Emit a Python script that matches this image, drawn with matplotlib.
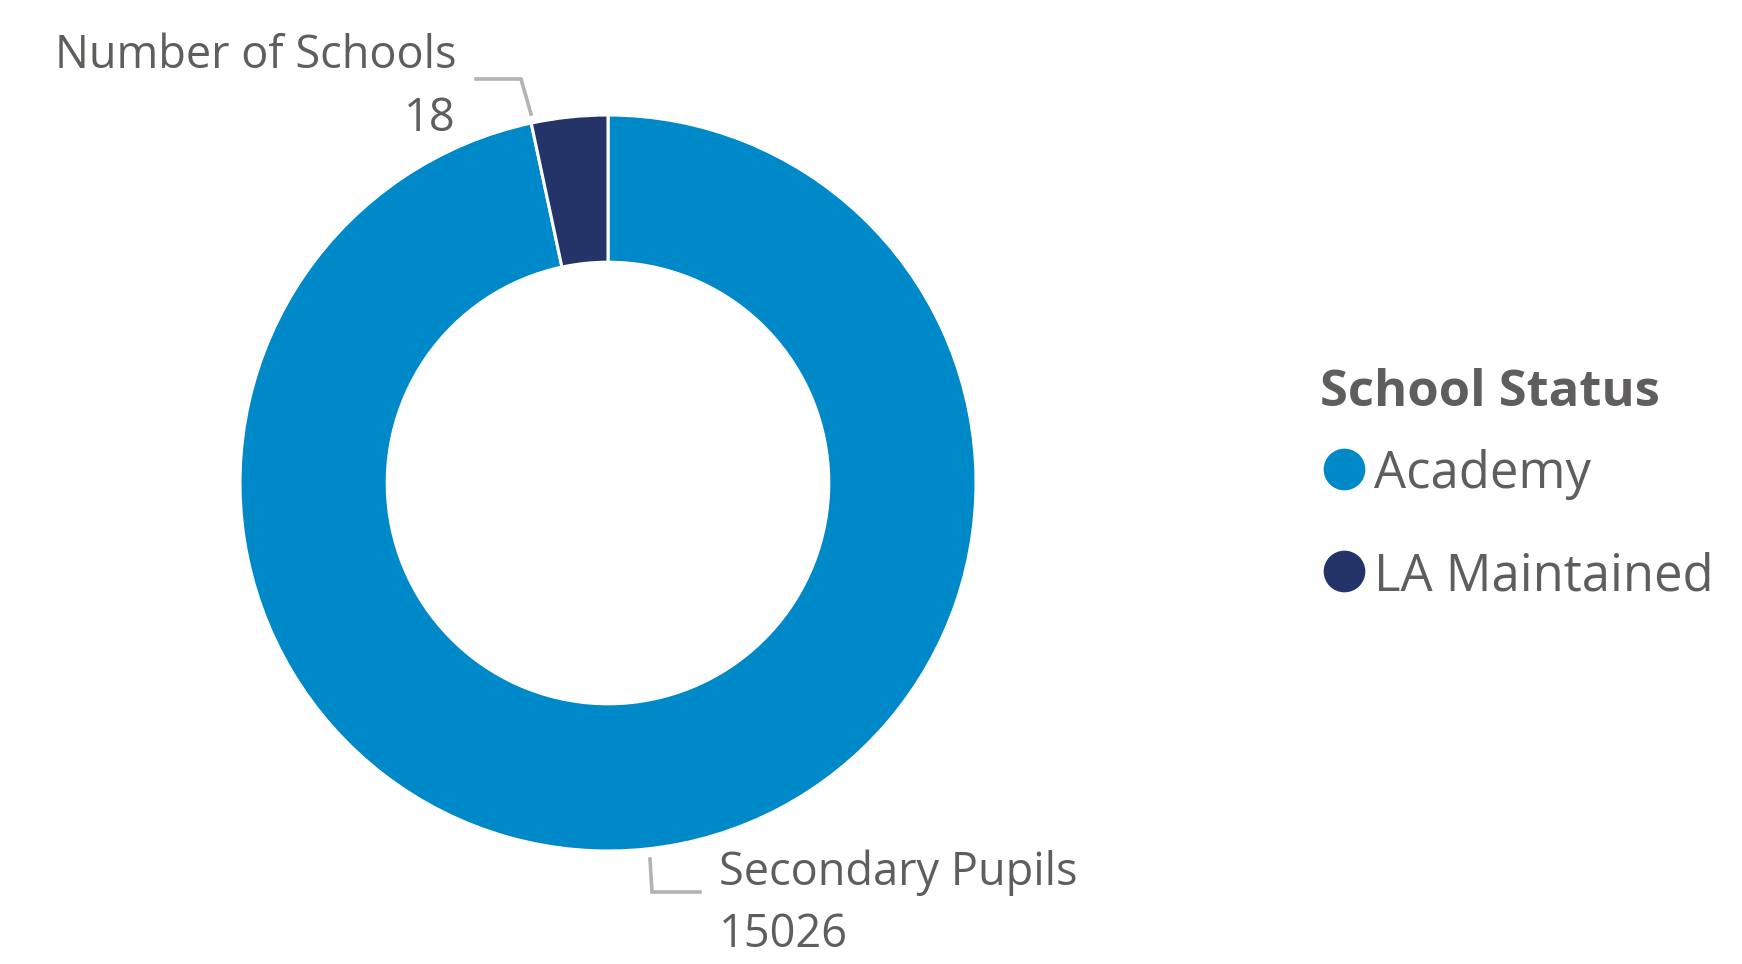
import matplotlib
matplotlib.use("Agg")
import matplotlib.pyplot as plt
import numpy as np

# ---- data ----
statuses = ["Academy", "LA Maintained"]
values = [15026, 520]          # slice sizes (LA Maintained)
colors = ["#0089C8", "#243468"]
label_titles = ["Secondary Pupils", "Number of Schools"]
label_values = ["15026", "18"]
legend_title = "School Status"

TEXT = "#605E5C"
LEADER = "#B3B3B3"
plt.rcParams['font.family'] = ['Open Sans', 'DejaVu Sans']

W, H = 1742, 964
fig = plt.figure(figsize=(W / 100, H / 100), dpi=100)

# donut axes: centre (608,483) px, radius 368 px
cx, cy, R = 608, 483, 368
ax = fig.add_axes([(cx - R) / W, (H - cy - R) / H, 2 * R / W, 2 * R / H])
wedges, _ = ax.pie(values, colors=colors, startangle=90, counterclock=False,
                   radius=1.0,
                   wedgeprops=dict(width=0.4, edgecolor="white", linewidth=2.2))
ax.set_xlim(-1, 1)
ax.set_ylim(-1, 1)
ax.set_aspect("equal")
ax.axis("off")

def px(x, y):
    return ((x - cx) / R, (cy - y) / R)

# Academy label (bottom, right of leader)
x0, y0 = px(650, 859); x1, y1 = px(652, 892); x2, y2 = px(700, 892)
ax.plot([x0, x1, x2], [y0, y1, y2], color=LEADER, lw=2.6, clip_on=False,
        solid_joinstyle="miter")
tx, ty = px(719, 873)
ax.text(tx, ty, label_titles[0], ha="left", va="center", fontsize=32.5,
        color=TEXT, clip_on=False)
tx, ty = px(719, 935)
ax.text(tx, ty, label_values[0], ha="left", va="center", fontsize=32.5,
        color=TEXT, clip_on=False)

# LA Maintained label (top left)
x0, y0 = px(476, 79); x1, y1 = px(521, 79); x2, y2 = px(531, 114)
ax.plot([x0, x1, x2], [y0, y1, y2], color=LEADER, lw=2.6, clip_on=False,
        solid_joinstyle="miter")
tx, ty = px(456, 56)
ax.text(tx, ty, label_titles[1], ha="right", va="center", fontsize=32.5,
        color=TEXT, clip_on=False)
tx, ty = px(456, 119)
ax.text(tx, ty, label_values[1], ha="right", va="center", fontsize=32.5,
        color=TEXT, clip_on=False)

# ---- legend (manual, in figure pixel space) ----
lax = fig.add_axes([0, 0, 1, 1])
lax.set_xlim(0, W)
lax.set_ylim(H, 0)
lax.axis("off")
lax.text(1320, 393, legend_title, ha="left", va="center", fontsize=36.5,
         fontweight="bold", color=TEXT)
for i, (name, col) in enumerate(zip(statuses, colors)):
    yy = 469 + i * 102
    lax.plot([1344], [yy], marker="o", markersize=29, color=col, linestyle="none")
    lax.text(1374, yy + 6, name, ha="left", va="center", fontsize=36.5, color=TEXT)

fig.savefig("out.png", dpi=100, facecolor="white")
